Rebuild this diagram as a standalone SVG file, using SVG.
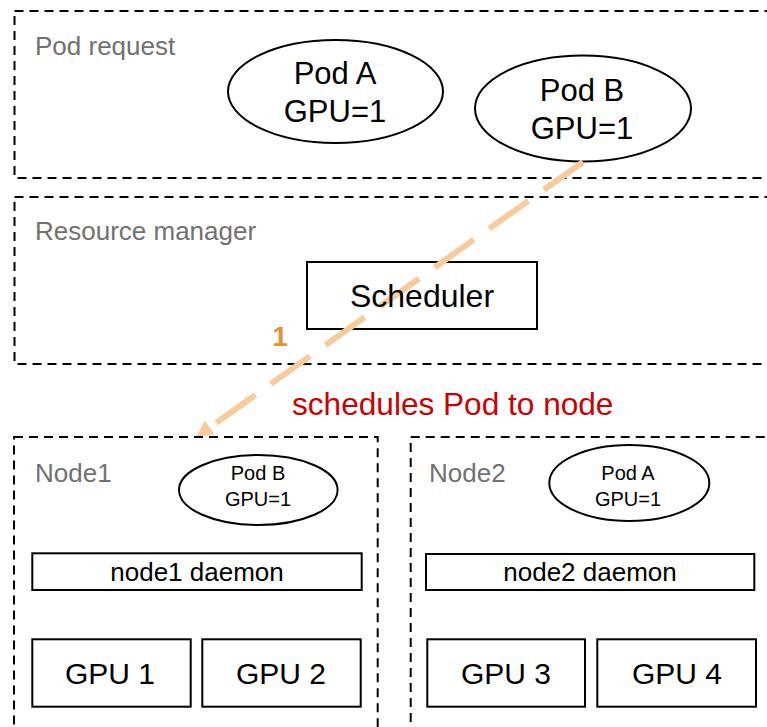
<svg xmlns="http://www.w3.org/2000/svg" width="767" height="727" viewBox="0 0 767 727">
  <defs>
    <style>
      text { font-family: "Liberation Sans", Arial, sans-serif; fill: #000; }
      .zone { fill: none; stroke: #000; stroke-width: 2; stroke-dasharray: 9 6; }
      .zone-label { font-size: 26px; fill: #717171; }
      .box { fill: none; stroke: #000; stroke-width: 2; }
      .pod { fill: #fff; stroke: #000; stroke-width: 2; }
      .pod-big { font-size: 31px; text-anchor: middle; }
      .pod-small { font-size: 20px; text-anchor: middle; }
      .daemon { font-size: 26px; text-anchor: middle; }
      .gpu { font-size: 30px; text-anchor: middle; }
      .flow { fill: none; stroke: #f9cb9c; stroke-width: 6; stroke-dasharray: 48 19; }
      .step { font-size: 28px; font-weight: bold; fill: #e69138; text-anchor: middle; }
      .note { font-size: 31.6px; fill: #cc0000; }
    </style>
    <marker id="arrow" markerUnits="userSpaceOnUse" markerWidth="20" markerHeight="20" refX="0" refY="0" orient="auto" overflow="visible">
      <path d="M0,-8.5 L17,0 L0,8.5 Z" fill="#f9cb9c"/>
    </marker>
  </defs>

  <!-- Pod request zone -->
  <g id="pod-request">
    <rect class="zone" x="14.5" y="11" width="800" height="167"/>
    <text class="zone-label" x="35" y="55">Pod request</text>
  </g>
  <g id="pod-a-request">
    <ellipse class="pod" cx="335.5" cy="91.5" rx="107.5" ry="51.5"/>
    <text class="pod-big" x="335" y="84">Pod A</text>
    <text class="pod-big" x="335" y="122">GPU=1</text>
  </g>
  <g id="pod-b-request">
    <ellipse class="pod" cx="583" cy="108.5" rx="108" ry="53"/>
    <text class="pod-big" x="582" y="101">Pod B</text>
    <text class="pod-big" x="582" y="139">GPU=1</text>
  </g>

  <!-- Resource manager zone -->
  <g id="resource-manager">
    <rect class="zone" x="14.5" y="197" width="800" height="167"/>
    <text class="zone-label" x="35" y="240">Resource manager</text>
  </g>
  <g id="scheduler-box">
    <rect class="box" x="307" y="262" width="230" height="67"/>
  </g>

  <!-- Scheduling flow -->
  <g id="connectors">
    <path class="flow" d="M583,162 L209.7,427.4" marker-end="url(#arrow)"/>
    <text class="step" x="280" y="346">1</text>
    <text class="note" x="292" y="415">schedules Pod to node</text>
  </g>

  <g id="scheduler">
    <text x="422" y="307" font-size="32" text-anchor="middle">Scheduler</text>
  </g>

  <!-- Node1 -->
  <g id="node1">
    <rect class="zone" x="14" y="437" width="363.7" height="320"/>
    <text class="zone-label" x="35" y="482">Node1</text>
  </g>
  <g id="node1-pod-b">
    <ellipse class="pod" cx="258.3" cy="490" rx="79.3" ry="35"/>
    <text class="pod-small" x="258" y="480">Pod B</text>
    <text class="pod-small" x="258" y="506">GPU=1</text>
  </g>
  <g id="node1-daemon">
    <rect class="box" x="32.3" y="553.3" width="329.4" height="36.7"/>
    <text class="daemon" x="197" y="581">node1 daemon</text>
  </g>
  <g id="gpu1">
    <rect class="box" x="32.3" y="639.3" width="158.4" height="67.4"/>
    <text class="gpu" x="110" y="684">GPU 1</text>
  </g>
  <g id="gpu2">
    <rect class="box" x="202.3" y="639.3" width="158.4" height="67.4"/>
    <text class="gpu" x="281" y="684">GPU 2</text>
  </g>

  <!-- Node2 -->
  <g id="node2">
    <rect class="zone" x="410.7" y="437" width="400" height="320"/>
    <text class="zone-label" x="429" y="482">Node2</text>
  </g>
  <g id="node2-pod-a">
    <ellipse class="pod" cx="629.3" cy="483" rx="80" ry="38"/>
    <text class="pod-small" x="628" y="480">Pod A</text>
    <text class="pod-small" x="628" y="506">GPU=1</text>
  </g>
  <g id="node2-daemon">
    <rect class="box" x="426" y="554" width="328.3" height="36"/>
    <text class="daemon" x="590" y="581">node2 daemon</text>
  </g>
  <g id="gpu3">
    <rect class="box" x="427.3" y="639.3" width="157.7" height="67.4"/>
    <text class="gpu" x="506" y="684">GPU 3</text>
  </g>
  <g id="gpu4">
    <rect class="box" x="597.3" y="639.3" width="158.7" height="67.4"/>
    <text class="gpu" x="677" y="684">GPU 4</text>
  </g>
</svg>
